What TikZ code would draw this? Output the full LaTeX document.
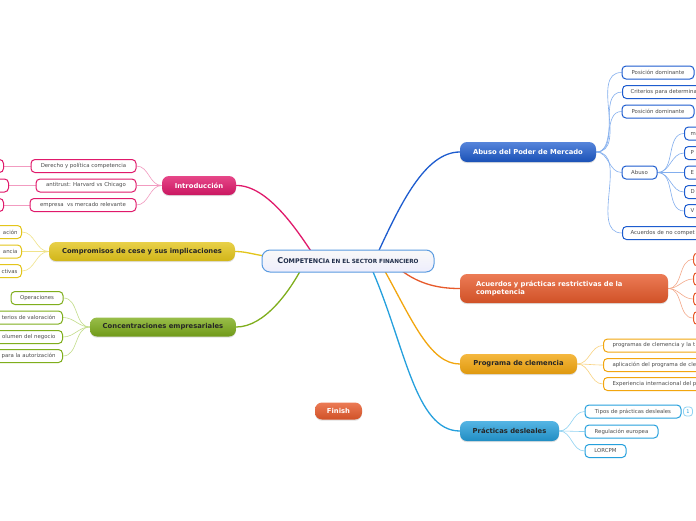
\documentclass[tikz,border=0pt]{standalone}
\usepackage{fontspec}
\setmainfont{DejaVu Sans}
\usetikzlibrary{calc,backgrounds,shadows}
\definecolor{pinkM}{HTML}{E0196B}\definecolor{pinkL}{HTML}{F29BC0}
\definecolor{yelM}{HTML}{E3C51B}\definecolor{yelL}{HTML}{F0E38A}
\definecolor{grnM}{HTML}{7FAE1C}\definecolor{grnL}{HTML}{C3DD8A}
\definecolor{bluM}{HTML}{1D5CCF}\definecolor{bluL}{HTML}{82AEEE}
\definecolor{orgM}{HTML}{E75A2B}\definecolor{orgL}{HTML}{F4A98A}
\definecolor{ambM}{HTML}{F2A60F}\definecolor{ambL}{HTML}{F9D27F}
\definecolor{cyaM}{HTML}{25A0DD}\definecolor{cyaL}{HTML}{8FD2F2}
\definecolor{navy}{HTML}{1F2D4A}
\definecolor{centB}{HTML}{5A9BE0}
\begin{document}
\begin{tikzpicture}[x=1pt,y=-1pt,
  mainnode/.style={rounded corners=7pt, inner sep=0pt, font=\fontsize{6.8}{8}\selectfont\bfseries,
     general shadow={fill=black, opacity=0.12, shadow yshift=-1.2pt}},
  leaf/.style={draw, fill=white, rounded corners=4pt, line width=1pt, inner sep=0pt,
     minimum height=13pt, font=\fontsize{5.4}{6.2}\selectfont, text=black!70},
  leafP/.style={leaf, draw=pinkM}, leafY/.style={leaf, draw=yelM}, leafG/.style={leaf, draw=grnM},
  leafB/.style={leaf, draw=bluM}, leafO/.style={leaf, draw=orgM}, leafA/.style={leaf, draw=ambM},
  leafC/.style={leaf, draw=cyaM},
  con/.style={line width=1.3pt},
  sub/.style={line width=0.6pt}]
\useasboundingbox (0,0) rectangle (696,520);

% central
\node[draw=centB, line width=1pt, rounded corners=8pt, top color=white!95!gray, bottom color=gray!28!blue!8,
      minimum width=172, minimum height=22, inner sep=0pt, text=navy, font=\bfseries] (c) at (348,261)
  {\fontsize{8}{8}\selectfont C\fontsize{6.4}{8}\selectfont OMPETENCI\fontsize{5.7}{8}\selectfont A EN EL SECTOR FINANCIERO};

% main branches
\node[mainnode, minimum width=74, minimum height=19, top color=pinkM!80!white, bottom color=pinkM!90!black, text=white] (intro) at (199,185.5) {Introducción};
\node[mainnode, minimum width=186, minimum height=19, top color=yelM!80!white, bottom color=yelM!92!black, text=black!85] (comp) at (142,251.5) {Compromisos de cese y sus implicaciones};
\node[mainnode, minimum width=146, minimum height=19, top color=grnM!80!white, bottom color=grnM!88!black, text=black!85] (conc) at (163,327) {Concentraciones empresariales};
\node[mainnode, minimum width=136, minimum height=20, top color=bluM!75!white, bottom color=bluM!88!black, text=white] (abuso) at (528,152) {Abuso del Poder de Mercado};
\node[mainnode, minimum width=208, minimum height=29, top color=orgM!80!white, bottom color=orgM!90!black, text=white, text width=176, align=left] (acu) at (564,288.5) {Acuerdos y prácticas restrictivas de la\\competencia};
\node[mainnode, minimum width=117, minimum height=20, top color=ambM!80!white, bottom color=ambM!92!black, text=black!85] (prog) at (518.5,364) {Programa de clemencia};
\node[mainnode, minimum width=99, minimum height=20, top color=cyaM!78!white, bottom color=cyaM!88!black, text=black!85] (prac) at (509.5,431) {Prácticas desleales};
\node[mainnode, minimum width=47, minimum height=17, top color=orgM!80!white, bottom color=orgM!90!black, text=white] (finish) at (338.5,411) {Finish};

% Introduccion leaves
\node[leafP, minimum width=105] (i1) at (83.5,166) {Derecho y política competencia};
\node[leafP, minimum width=100] (i2) at (86,185.5) {antitrust: Harvard vs Chicago};
\node[leafP, minimum width=106] (i3) at (83,205) {empresa\ \ vs mercado relevante};
\node[leafP, anchor=east, minimum width=40] (s1) at (4,166) {};
\node[leafP, anchor=east, minimum width=40] (s2) at (9,185.5) {};
\node[leafP, anchor=east, minimum width=40] (s3) at (4,205) {};

% Compromisos leaves
\node[leafY, anchor=east, text width=66, align=right] (y1) at (22,232) {ación\hspace*{4pt}};
\node[leafY, anchor=east, text width=66, align=right] (y2) at (22,251.5) {ancia\hspace*{4pt}};
\node[leafY, anchor=east, text width=66, align=right] (y3) at (22,271) {ctivas\hspace*{4pt}};

% Concentraciones leaves
\node[leafG, minimum width=52] (g1) at (37,298) {Operaciones};
\node[leafG, anchor=east, text width=90, align=right] (g2) at (63,317.5) {terios de valoración\hspace*{7pt}};
\node[leafG, anchor=east, text width=90, align=right] (g3) at (63,337) {olumen del negocio\hspace*{7pt}};
\node[leafG, anchor=east, text width=90, align=right] (g4) at (63,356) {para la autorización\hspace*{7pt}};

% Abuso leaves
\node[leafB, minimum width=72] (b1) at (658,72.5) {Posición dominante};
\node[leafB, anchor=west, text width=100, align=left] (b2) at (622,92) {\hspace*{8pt}Criterios para determina};
\node[leafB, minimum width=72] (b3) at (658,111.5) {Posición dominante};
\node[leafB, minimum width=35] (b4) at (639.5,172.5) {Abuso};
\node[leafB, anchor=west, text width=100, align=left] (b5) at (622,233) {\hspace*{8pt}Acuerdos de no compet};
\node[leafB, anchor=west, text width=40, align=left] (b41) at (684,133.5) {\hspace*{6pt}m};
\node[leafB, anchor=west, text width=40, align=left] (b42) at (684,153) {\hspace*{6pt}P};
\node[leafB, anchor=west, text width=40, align=left] (b43) at (684,172.5) {\hspace*{6pt}E};
\node[leafB, anchor=west, text width=40, align=left] (b44) at (684,192) {\hspace*{6pt}D};
\node[leafB, anchor=west, text width=40, align=left] (b45) at (684,211) {\hspace*{6pt}V};

% Acuerdos leaves
\node[leafO, anchor=west, minimum width=40] (a1) at (693,259.5) {};
\node[leafO, anchor=west, minimum width=40] (a2) at (693,279) {};
\node[leafO, anchor=west, minimum width=40] (a3) at (693,299) {};
\node[leafO, anchor=west, minimum width=40] (a4) at (693,318) {};

% Programa leaves
\node[leafA, anchor=west, text width=120, align=left] (p1) at (603,345.5) {\hspace*{9pt}programas de clemencia y la t};
\node[leafA, anchor=west, text width=120, align=left] (p2) at (603,365) {\hspace*{9pt}aplicación del programa de cle};
\node[leafA, anchor=west, text width=120, align=left] (p3) at (603,384) {\hspace*{9pt}Experiencia internacional del p};

% Practicas leaves
\node[leafC, minimum width=96] (d1) at (633,411.5) {Tipos de prácticas desleales};
\node[leafC, minimum width=73] (d2) at (621.5,431.5) {Regulación europea};
\node[leafC, minimum width=41] (d3) at (605.5,451) {LORCPM};
\node[draw=cyaL, line width=0.8pt, rounded corners=3pt, minimum width=9, minimum height=9, inner sep=0pt,
      font=\fontsize{5}{5}\selectfont, text=cyaM] (badge) at (688,411.5) {1};

\begin{scope}[on background layer]
\fill[white] (0,0) rectangle (696,520);
% main connectors
\draw[con, pinkM] (intro.east) .. controls (268,185) and (298,232) .. ($(c.north)+(-36,3)$);
\draw[con, bluM] ($(c.north)+(30,3)$) .. controls (400,205) and (425,152) .. (abuso.west);
\draw[con, yelM] (comp.east) .. controls (245,251.5) and (252,254) .. ($(c.west)+(3,-5)$);
\draw[con, grnM] (conc.east) .. controls (265,327) and (290,290) .. ($(c.south)+(-47,-3)$);
\draw[con, orgM] ($(c.south)+(52,-3)$) .. controls (420,285) and (440,288.5) .. (acu.west);
\draw[con, ambM] ($(c.south)+(36,-3)$) .. controls (412,320) and (430,364) .. (prog.west);
\draw[con, cyaM] ($(c.south)+(24,-3)$) .. controls (405,345) and (415,431) .. (prac.west);
% Introduccion
\foreach \n in {i1,i2,i3} \draw[sub, pinkL] (intro.west) to[out=180,in=0] (\n.east);
\draw[sub, pinkL] (i1.west) -- (s1.east);
\draw[sub, pinkL] (i2.west) -- (s2.east);
\draw[sub, pinkL] (i3.west) -- (s3.east);
% Compromisos
\foreach \n in {y1,y2,y3} \draw[sub, yelL] (comp.west) to[out=180,in=0] (\n.east);
% Concentraciones
\foreach \n in {g1,g2,g3,g4} \draw[sub, grnL] (conc.west) to[out=180,in=0] (\n.east);
% Abuso
\foreach \n in {b1,b2,b3,b4,b5} \draw[sub, bluL] (abuso.east) to[out=0,in=180] (\n.west);
\foreach \n in {b41,b42,b43,b44,b45} \draw[sub, bluL] (b4.east) to[out=0,in=180] (\n.west);
% Acuerdos
\foreach \n in {a1,a2,a3,a4} \draw[sub, orgL] (acu.east) to[out=0,in=180] (\n.west);
% Programa
\foreach \n in {p1,p2,p3} \draw[sub, ambL] (prog.east) to[out=0,in=180] (\n.west);
% Practicas
\foreach \n in {d1,d2,d3} \draw[sub, cyaL] (prac.east) to[out=0,in=180] (\n.west);
\end{scope}
\end{tikzpicture}
\end{document}
